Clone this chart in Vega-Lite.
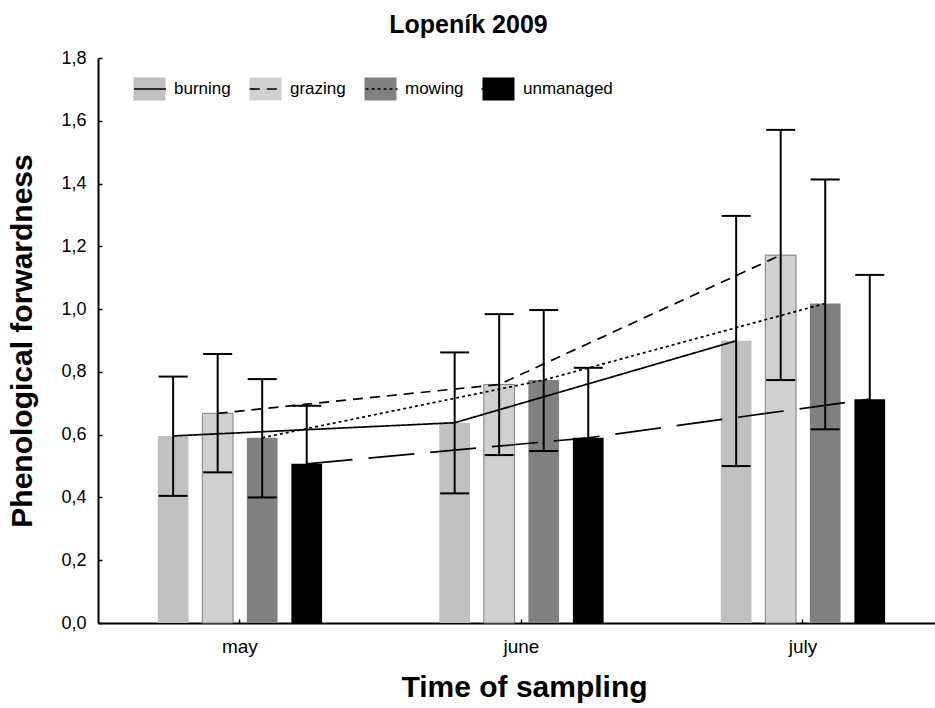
{
  "$schema": "https://vega.github.io/schema/vega-lite/v6.json",
  "width": 837,
  "height": 565,
  "autosize": {"type": "none"},
  "padding": {"left": 98, "top": 58, "right": 0, "bottom": 85},
  "background": "white",
  "config": {
    "font": "Liberation Sans",
    "view": {"stroke": null},
    "axis": {
      "grid": false,
      "domainColor": "black",
      "domainWidth": 2,
      "tickColor": "black",
      "tickWidth": 1.5,
      "labelColor": "black",
      "titleColor": "black",
      "labelFont": "Liberation Sans",
      "titleFont": "Liberation Sans"
    },
    "legend": {"labelFont": "Liberation Sans"}
  },
  "title": {
    "text": "Lopeník 2009",
    "font": "Liberation Sans",
    "fontSize": 25,
    "fontWeight": "bold",
    "color": "black",
    "anchor": "middle",
    "dx": -48,
    "baseline": "alphabetic",
    "offset": -9
  },
  "datasets": {
    "stats": [
      {"month": "may", "treatment": "burning", "mean": 0.596, "lo": 0.405, "hi": 0.785},
      {"month": "may", "treatment": "grazing", "mean": 0.668, "lo": 0.480, "hi": 0.857},
      {"month": "may", "treatment": "mowing", "mean": 0.590, "lo": 0.400, "hi": 0.777},
      {"month": "may", "treatment": "unmanaged", "mean": 0.507, "lo": 0.322, "hi": 0.692},
      {"month": "june", "treatment": "burning", "mean": 0.638, "lo": 0.413, "hi": 0.862},
      {"month": "june", "treatment": "grazing", "mean": 0.760, "lo": 0.535, "hi": 0.984},
      {"month": "june", "treatment": "mowing", "mean": 0.774, "lo": 0.548, "hi": 0.997},
      {"month": "june", "treatment": "unmanaged", "mean": 0.590, "lo": 0.367, "hi": 0.813},
      {"month": "july", "treatment": "burning", "mean": 0.899, "lo": 0.500, "hi": 1.297},
      {"month": "july", "treatment": "grazing", "mean": 1.172, "lo": 0.774, "hi": 1.571},
      {"month": "july", "treatment": "mowing", "mean": 1.018, "lo": 0.617, "hi": 1.413},
      {"month": "july", "treatment": "unmanaged", "mean": 0.713, "lo": 0.317, "hi": 1.109}
    ]
  },
  "data": {"name": "stats"},
  "encoding": {
    "x": {
      "field": "month",
      "type": "nominal",
      "sort": ["may", "june", "july"],
      "scale": {"paddingInner": 0.1, "paddingOuter": 0.0366, "align": 0.74},
      "axis": {
        "title": "Time of sampling",
        "titleFontSize": 30,
        "titleFontWeight": "bold",
        "titleX": 426,
        "titlePadding": 16,
        "labelAngle": 0,
        "labelFontSize": 19,
        "labelPadding": 18,
        "tickSize": -4
      }
    },
    "xOffset": {
      "field": "treatment",
      "type": "nominal",
      "sort": ["burning", "grazing", "mowing", "unmanaged"],
      "scale": {"paddingInner": 0.31, "paddingOuter": 1.15}
    }
  },
  "layer": [
    {
      "mark": {"type": "bar", "strokeWidth": 1},
      "encoding": {
        "y": {
          "field": "mean",
          "type": "quantitative",
          "scale": {"domain": [0, 1.8], "nice": false},
          "axis": {
            "title": "Phenological forwardness",
            "titleFontSize": 30,
            "titleFontWeight": "bold",
            "titlePadding": 23,
            "values": [0, 0.2, 0.4, 0.6, 0.8, 1, 1.2, 1.4, 1.6, 1.8],
            "labelExpr": "replace(format(datum.value, '.1f'), '.', ',')",
            "labelFontSize": 18,
            "labelPadding": 16,
            "tickSize": -4
          }
        },
        "fill": {
          "field": "treatment",
          "type": "nominal",
          "scale": {"range": ["#c0c0c0", "#d0d0d0", "#808080", "#000000"]},
          "legend": {
            "orient": "none",
            "legendX": 35,
            "legendY": 14,
            "direction": "horizontal",
            "title": null,
            "padding": 0,
            "symbolType": "M-1,-0.72H1V0.72H-1Z",
            "symbolSize": 1024,
            "symbolStrokeWidth": 1,
            "symbolOpacity": 1,
            "labelFontSize": 17,
            "labelColor": "black",
            "labelOffset": 8,
            "columnPadding": 16,
            "encode": {
              "symbols": {
                "update": {
                  "stroke": {"signal": "datum.value === 'grazing' ? '#808080' : 'transparent'"}
                }
              }
            }
          }
        },
        "stroke": {
          "condition": {"test": "datum.treatment === 'grazing'", "value": "#808080"},
          "value": "transparent"
        }
      }
    },
    {
      "transform": [{"filter": "datum.mean > 0"}],
      "mark": {"type": "line", "color": "black", "strokeWidth": 1.7},
      "encoding": {
        "y": {"field": "mean", "type": "quantitative"},
        "strokeDash": {
          "field": "treatment",
          "type": "nominal",
          "scale": {"range": [[1, 0], [10, 7], [3, 3], [46, 16]]},
          "legend": {
            "orient": "none",
            "legendX": 35,
            "legendY": 14,
            "direction": "horizontal",
            "title": null,
            "padding": 0,
            "symbolType": "stroke",
            "symbolSize": 1024,
            "symbolStrokeColor": "black",
            "symbolStrokeWidth": 1.7,
            "labelExpr": "''",
            "labelFontSize": 17,
            "labelOffset": 8,
            "columnPadding": 70.8
          }
        }
      }
    },
    {
      "mark": {"type": "rule", "color": "black", "strokeWidth": 2},
      "encoding": {
        "y": {"field": "lo", "type": "quantitative"},
        "y2": {"field": "hi"}
      }
    },
    {
      "mark": {"type": "tick", "orient": "horizontal", "color": "black", "size": 29, "thickness": 2, "opacity": 1},
      "encoding": {"y": {"field": "hi", "type": "quantitative"}}
    },
    {
      "mark": {"type": "tick", "orient": "horizontal", "color": "black", "size": 29, "thickness": 2, "opacity": 1},
      "encoding": {"y": {"field": "lo", "type": "quantitative"}}
    }
  ]
}
